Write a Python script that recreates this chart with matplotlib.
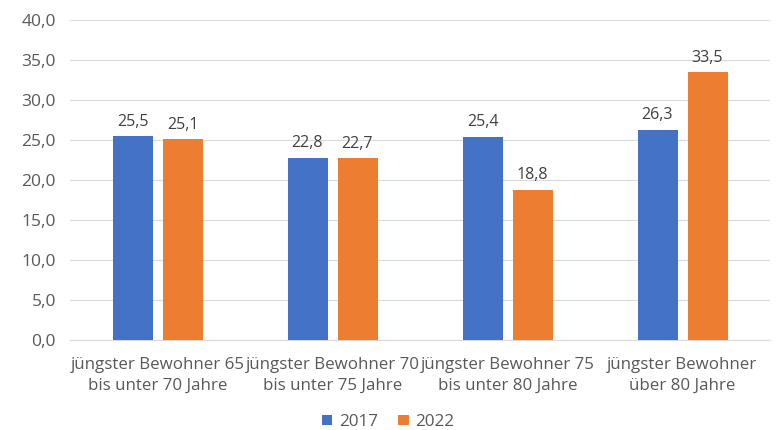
import matplotlib
matplotlib.use("Agg")
import matplotlib.pyplot as plt
import numpy as np

categories = ["jüngster Bewohner 65\nbis unter 70 Jahre",
              "jüngster Bewohner 70\nbis unter 75 Jahre",
              "jüngster Bewohner 75\nbis unter 80 Jahre",
              "jüngster Bewohner\nüber 80 Jahre"]
series_names = ["2017", "2022"]
values_2017 = [25.5, 22.8, 25.4, 26.3]
values_2022 = [25.1, 22.7, 18.8, 33.5]
yticks = [0, 5, 10, 15, 20, 25, 30, 35, 40]

plt.rcParams['font.family'] = ['Open Sans', 'DejaVu Sans']
text_color = "#595959"

fig = plt.figure(figsize=(7.76, 4.30), dpi=100)
ax = fig.add_axes([70/776, 1 - 340/430, 700/776, 320/430])

x = np.arange(len(categories))
w = 40/175
off = 25/175
b1 = ax.bar(x - off, values_2017, width=w, color="#4472C4", label=series_names[0], zorder=3)
b2 = ax.bar(x + off, values_2022, width=w, color="#ED7D31", label=series_names[1], zorder=3)

for bars, vals in ((b1, values_2017), (b2, values_2022)):
    for r, v in zip(bars, vals):
        ax.text(r.get_x() + r.get_width()/2, v + 0.8, f"{v:.1f}".replace(".", ","),
                ha="center", va="bottom", fontsize=11.5, color="#404040")

ax.set_xlim(-0.5, len(categories) - 0.5)
ax.set_ylim(0, 40)
ax.set_yticks(yticks)
ax.set_yticklabels([f"{t:.1f}".replace(".", ",") for t in yticks], fontsize=12.5, color=text_color)
ax.set_xticks(x)
ax.set_xticklabels(categories, fontsize=12.2, color=text_color, linespacing=1.45)
ax.tick_params(axis="both", length=0)
ax.tick_params(axis="x", pad=12)
ax.tick_params(axis="y", pad=10)
ax.grid(axis="y", color="#D9D9D9", linewidth=0.8, zorder=0)
for s in ["top", "right", "left"]:
    ax.spines[s].set_visible(False)
ax.spines["bottom"].set_color("#D9D9D9")

leg = fig.legend(handles=[b1, b2], labels=series_names, loc="center", bbox_to_anchor=(0.5, 1 - 422/430),
                 ncol=2, frameon=False, fontsize=12.3, handlelength=0.6, handleheight=0.6,
                 columnspacing=1.2, handletextpad=0.4)
for t in leg.get_texts():
    t.set_color(text_color)

fig.savefig("out.png", dpi=100)
